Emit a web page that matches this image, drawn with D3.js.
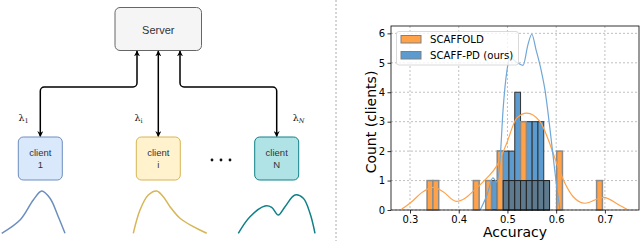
<!DOCTYPE html>
<html>
<head>
<meta charset="utf-8">
<script src="https://cdn.jsdelivr.net/npm/d3@7"></script>
<style>
  body { margin: 0; background: #fff; }
  svg { display: block; }
</style>
</head>
<body>
<div id="chart"></div>
<script>
// ---------- data ----------
const xTicks = [0.3, 0.4, 0.5, 0.6, 0.7];
const yTicks = [0, 1, 2, 3, 4, 5, 6];
const binWidth = 0.0119;

// SCAFFOLD histogram: bin left edges and counts
const scaffoldBins = [0.335, 0.347, 0.430, 0.4554, 0.4793, 0.5269, 0.601, 0.683];
const scaffoldCounts = [1, 1, 1, 1, 2, 3, 2, 1];

// SCAFF-PD histogram
const pdBins = [0.4674, 0.4793, 0.4912, 0.5031, 0.515, 0.5269, 0.5388, 0.5507, 0.5626, 0.5745];
const pdCounts = [1, 2, 2, 2, 4, 3, 3, 3, 3, 1];

// dark overlapping bins at the bottom of the SCAFF-PD block
const overlapBins = [0.4912, 0.5031, 0.515, 0.5269, 0.5388, 0.5507, 0.5626, 0.5745];
const overlapCounts = [1, 1, 1, 1, 1, 1, 1, 1];

// density curves (x, count)
const scaffoldKdeX = [0.283, 0.3035, 0.324, 0.348, 0.368, 0.395, 0.413, 0.4335, 0.4575, 0.478, 0.4985, 0.519, 0.5396, 0.567, 0.584, 0.601, 0.618, 0.635, 0.659, 0.697, 0.731, 0.745];
const scaffoldKdeY = [0.03, 0.28, 0.59, 0.77, 0.62, 0.29, 0.40, 0.70, 1.08, 1.50, 2.27, 3.12, 3.29, 3.0, 2.38, 1.59, 0.91, 0.45, 0.23, 0.43, 0.15, 0.03];
const pdKdeX = [0.444, 0.458, 0.470, 0.4786, 0.4848, 0.491, 0.4992, 0.5053, 0.5177, 0.532, 0.542, 0.55, 0.5587, 0.569, 0.577, 0.5875, 0.5958, 0.602, 0.608];
const pdKdeY = [0, 0.51, 1.09, 0.95, 1.7, 3.4, 4.76, 5.17, 5.03, 4.91, 5.61, 5.97, 5.44, 4.76, 4.08, 2.72, 1.53, 0.68, 0];

const seriesNames = ["SCAFFOLD", "SCAFF-PD (ours)"];

// diagram
const clientNames = ["1", "i", "N"];
const clientLambda = ["1", "i", "N"];
const clientFill = ["#dae8fc", "#fff2cc", "#b0e3e6"];
const clientStroke = ["#6c8ebf", "#d6b656", "#0e8088"];
const clientCx = [40.3, 158.3, 276.7];
const curve1X = [1.7, 20, 33.3, 41.7, 50, 58.3, 65];
const curve1Y = [233.3, 220, 200, 191, 198.3, 216.7, 233.3];
const curveIX = [133.3, 140, 148.3, 156.7, 163.3, 170, 180, 193.3, 206.7];
const curveIY = [233.3, 210, 195, 191, 196.7, 206.7, 218.3, 226.7, 233.3];
const curveNX = [238.3, 250, 265, 271.7, 278.3, 285, 295, 303.3, 310, 315];
const curveNY = [233.3, 216.7, 206, 207.3, 215, 206.7, 195, 198.3, 213.3, 233.3];

// ---------- setup ----------
const W = 640, H = 241;
const svg = d3.select("#chart").append("svg")
  .attr("width", W).attr("height", H);

const mplFont = "DejaVu Sans, sans-serif";
const drawFont = "Liberation Sans, Arial, sans-serif";

// separator
svg.append("line")
  .attr("x1", 336).attr("x2", 336).attr("y1", 0).attr("y2", H)
  .attr("stroke", "#aaa").attr("stroke-width", 1).attr("stroke-dasharray", "2,2");

// ---------- left diagram ----------
const dx = d3.scaleLinear().domain([0, 1]).range([0, 1]);
const dy = d3.scaleLinear().domain([0, 1]).range([0, 1]);

const defs = svg.append("defs");
defs.append("marker").attr("id", "arr")
  .attr("viewBox", "0 0 10 10").attr("refX", 9).attr("refY", 5)
  .attr("markerWidth", 6).attr("markerHeight", 6)
  .attr("markerUnits", "userSpaceOnUse")
  .attr("orient", "auto-start-reverse")
  .append("path").attr("d", "M0,0 L10,5 L0,10 L3,5 Z").attr("fill", "#000");

const diag = svg.append("g");

// server
diag.append("rect")
  .attr("x", dx(115)).attr("y", dy(7.5)).attr("width", 86.5).attr("height", 43)
  .attr("rx", 5).attr("fill", "#f5f5f5").attr("stroke", "#666").attr("stroke-width", 1);
diag.append("text")
  .attr("x", dx(158.3)).attr("y", dy(33.5)).attr("text-anchor", "middle")
  .style("font-family", drawFont).style("font-size", "11px").attr("fill", "#333")
  .text("Server");

// arrows
const serverBottom = 51, clientTop = 136.5, bendY = 87;
const serverPorts = [137, 158.3, 180];
function elbow(sx, cx) {
  const p = d3.path();
  p.moveTo(dx(sx), dy(serverBottom));
  if (Math.abs(sx - cx) < 1) {
    p.lineTo(dx(cx), dy(clientTop));
  } else {
    p.lineTo(dx(sx), dy(bendY - 4));
    p.arcTo(dx(sx), dy(bendY), dx(sx + Math.sign(cx - sx) * 4), dy(bendY), 4);
    p.lineTo(dx(cx - Math.sign(cx - sx) * 4), dy(bendY));
    p.arcTo(dx(cx), dy(bendY), dx(cx), dy(bendY + 4), 4);
    p.lineTo(dx(cx), dy(clientTop));
  }
  return p.toString();
}
clientCx.forEach((cx, i) => {
  diag.append("path")
    .attr("d", elbow(serverPorts[i], cx))
    .attr("fill", "none").attr("stroke", "#000").attr("stroke-width", 1.5)
    .attr("marker-start", "url(#arr)").attr("marker-end", "url(#arr)");
});

// lambda labels
const lambdaX = [23.5, 138.5, 298.5];
clientLambda.forEach((s, i) => {
  const t = diag.append("text")
    .attr("x", dx(lambdaX[i])).attr("y", dy(121))
    .attr("text-anchor", "middle")
    .style("font-family", "DejaVu Serif, serif").style("font-size", "9.5px").attr("fill", "#111");
  t.append("tspan").text("λ");
  t.append("tspan").attr("dy", 2).style("font-size", "6.5px")
    .style("font-style", i === 2 ? "italic" : "normal").text(s);
});

// client boxes
clientCx.forEach((cx, i) => {
  diag.append("rect")
    .attr("x", dx(cx - 22)).attr("y", dy(137)).attr("width", 44).attr("height", 43)
    .attr("rx", 5).attr("fill", clientFill[i]).attr("stroke", clientStroke[i]).attr("stroke-width", 1);
  diag.append("text")
    .attr("x", dx(cx)).attr("y", dy(156)).attr("text-anchor", "middle")
    .style("font-family", drawFont).style("font-size", "9.5px").attr("fill", "#333")
    .text("client");
  diag.append("text")
    .attr("x", dx(cx)).attr("y", dy(168)).attr("text-anchor", "middle")
    .style("font-family", drawFont).style("font-size", "9.5px").attr("fill", "#333")
    .text(clientNames[i]);
});

// ellipsis
[212, 221, 230].forEach(x => {
  diag.append("circle").attr("cx", dx(x)).attr("cy", dy(160)).attr("r", 1.4).attr("fill", "#111");
});

// client distributions
const dline = d3.line().x(d => dx(d[0])).y(d => dy(d[1])).curve(d3.curveCatmullRom);
[[curve1X, curve1Y], [curveIX, curveIY], [curveNX, curveNY]].forEach((c, i) => {
  diag.append("path")
    .attr("d", dline(d3.zip(c[0], c[1])))
    .attr("fill", "none").attr("stroke", clientStroke[i]).attr("stroke-width", 1.5);
});

// ---------- right histogram ----------
const pLeft = 391, pRight = 639, pTop = 26, pBottom = 210;
const x = d3.scaleLinear().domain([0.261, 0.770]).range([pLeft, pRight]);
const y = d3.scaleLinear().domain([0, 6.25]).range([pBottom, pTop]);

const plot = svg.append("g");

// grid
plot.append("g").selectAll("line").data(xTicks).join("line")
  .attr("x1", d => x(d)).attr("x2", d => x(d)).attr("y1", pTop).attr("y2", pBottom)
  .attr("stroke", "#b0b0b0").attr("stroke-width", 0.8).attr("stroke-dasharray", "2,2");
plot.append("g").selectAll("line").data(yTicks).join("line")
  .attr("x1", pLeft).attr("x2", pRight).attr("y1", d => y(d)).attr("y2", d => y(d))
  .attr("stroke", "#b0b0b0").attr("stroke-width", 0.8).attr("stroke-dasharray", "2,2");

function bars(bins, counts, fill, stroke, sw) {
  plot.append("g").selectAll("rect").data(d3.zip(bins, counts)).join("rect")
    .attr("x", d => x(d[0]))
    .attr("width", d => x(d[0] + binWidth) - x(d[0]))
    .attr("y", d => y(d[1]))
    .attr("height", d => y(0) - y(d[1]))
    .attr("fill", fill).attr("stroke", stroke).attr("stroke-width", sw);
}
bars(pdBins, pdCounts, "#5b9bcf", "#333", 1);
bars(scaffoldBins, scaffoldCounts, "#ffa24a", "#8a8a8a", 1.5);
bars(overlapBins, overlapCounts, "#5d7a8f", "#222", 1);

// density curves
const kline = d3.line().x(d => x(d[0])).y(d => y(d[1])).curve(d3.curveMonotoneX);
plot.append("path").attr("d", kline(d3.zip(scaffoldKdeX, scaffoldKdeY)))
  .attr("fill", "none").attr("stroke", "#ffa24a").attr("stroke-width", 1.2);
plot.append("path").attr("d", kline(d3.zip(pdKdeX, pdKdeY)))
  .attr("fill", "none").attr("stroke", "#6fa7d8").attr("stroke-width", 1.2);

// axes
const xAxis = svg.append("g").attr("transform", `translate(0,${pBottom})`)
  .call(d3.axisBottom(x).tickValues(xTicks).tickFormat(d3.format(".1f")).tickSize(3.5).tickPadding(2.5));
const yAxis = svg.append("g").attr("transform", `translate(${pLeft},0)`)
  .call(d3.axisLeft(y).tickValues(yTicks).tickFormat(d3.format("d")).tickSize(3.5).tickPadding(2.5));
[xAxis, yAxis].forEach(a => {
  a.select(".domain").remove();
  a.selectAll("line").attr("stroke", "#000").attr("stroke-width", 0.8);
  a.selectAll("text").style("font-family", mplFont).style("font-size", "10px").attr("fill", "#000");
});

// spines
svg.append("rect").attr("x", pLeft).attr("y", pTop).attr("width", pRight - pLeft).attr("height", pBottom - pTop)
  .attr("fill", "none").attr("stroke", "#000").attr("stroke-width", 0.8);

// axis labels
svg.append("text").attr("x", (pLeft + pRight) / 2).attr("y", 237).attr("text-anchor", "middle")
  .style("font-family", mplFont).style("font-size", "14px").text("Accuracy");
svg.append("text").attr("transform", `translate(376,${(pTop + pBottom) / 2 + 4}) rotate(-90)`)
  .attr("text-anchor", "middle")
  .style("font-family", mplFont).style("font-size", "14px").text("Count (clients)");

// legend
const lg = svg.append("g");
lg.append("rect").attr("x", 396.5).attr("y", 31.5).attr("width", 122).attr("height", 33.5)
  .attr("rx", 2.5).attr("fill", "#fff").attr("fill-opacity", 0.8).attr("stroke", "#d0d0d0").attr("stroke-width", 0.8);
const legFill = ["#ffa24a", "#5b9bcf"];
seriesNames.forEach((name, i) => {
  const yy = 39.5 + i * 16;
  lg.append("rect").attr("x", 401).attr("y", yy - 4).attr("width", 20).attr("height", 7.5)
    .attr("fill", legFill[i]).attr("stroke", "#808080").attr("stroke-width", 1);
  lg.append("text").attr("x", 430).attr("y", yy + 3.6)
    .style("font-family", mplFont).style("font-size", "10.2px").text(name);
});
</script>
</body>
</html>
